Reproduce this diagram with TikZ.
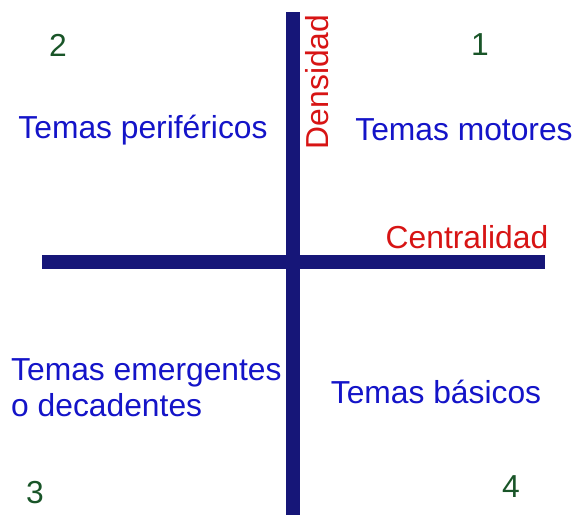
\documentclass[tikz,border=0pt]{standalone}
\usepackage{fontspec}
\setmainfont{Liberation Sans}
\usepackage{tikz}
\definecolor{ejeazul}{RGB}{22,22,120}
\definecolor{temaazul}{RGB}{20,20,200}
\definecolor{rojo}{RGB}{215,20,20}
\definecolor{verde}{RGB}{25,85,40}
\tikzstyle{every node}=[inner sep=0pt,font=\fontsize{31.8}{36}\selectfont]
\tikzstyle{tema}=[text=temaazul]
\tikzstyle{eje}=[text=rojo]
\tikzstyle{cuadrante}=[text=verde]
\tikzstyle{barra}=[draw=ejeazul,line width=14pt]

\begin{document}
\begin{tikzpicture}[x=1pt,y=-1pt]
  \useasboundingbox (0,0) rectangle (575,515);
  % ejes
  \coordinate (arriba) at (293,12);
  \coordinate (abajo) at (293,515);
  \coordinate (izq) at (42,262);
  \coordinate (der) at (545,262);
  \draw [barra] (arriba) -- (abajo);
  \draw [barra] (izq) -- (der);
  \node [eje,rotate=90] (densidad) at (317,82) {Densidad};
  \node [eje] (centralidad) at (467,237) {Centralidad};
  % cuadrantes
  \node [cuadrante] (c1) at (480,45) {1};
  \node [cuadrante] (c2) at (58,45) {2};
  \node [cuadrante] (c3) at (35,493) {3};
  \node [cuadrante] (c4) at (511,487) {4};
  \node [tema] (motores) at (464,130) {Temas motores};
  \node [tema] (perifericos) at (143,130) {Temas periféricos};
  \node [tema,anchor=west,align=left] (emergentes) at (11,388) {Temas emergentes\\o decadentes};
  \node [tema] (basicos) at (436,392) {Temas básicos};
\end{tikzpicture}
\end{document}
